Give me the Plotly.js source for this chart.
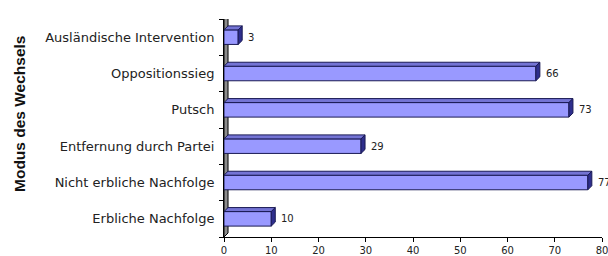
<!DOCTYPE html>
<html>
<head>
<meta charset="utf-8">
<script src="https://cdn.plot.ly/plotly-3.0.1.min.js"></script>
<style>html,body{margin:0;padding:0;background:#fff;}#chart{width:608px;height:256px;}</style>
</head>
<body>
<div id="chart"></div>
<script>
// Data (bottom to top as drawn)
const categories = ["Erbliche Nachfolge", "Nicht erbliche Nachfolge", "Entfernung durch Partei", "Putsch", "Oppositionssieg", "Ausländische Intervention"];
const values = [10, 77, 29, 73, 66, 3];
const xTickVals = [0, 10, 20, 30, 40, 50, 60, 70, 80];
const yTitle = "Modus des Wechsels";

// style constants
const barW = 0.4;      // front face height (category units)
const depthX = 0.85;   // 3D depth in x units
const depthY = 0.11;   // 3D depth in category units
const idx = categories.map((c, i) => i);
const n = categories.length;

const shapes = [];
// left wall
shapes.push({
  type: 'path', xref: 'x', yref: 'y', layer: 'below',
  path: `M 0,${-0.5} L ${depthX},${-0.5 + depthY} L ${depthX},${n - 0.5 + depthY} L 0,${n - 0.5} Z`,
  fillcolor: '#8c8c8c', line: {color: '#000', width: 1}
});
values.forEach((v, i) => {
  const top = i + barW / 2, bot = i - barW / 2;
  shapes.push({
    type: 'path', xref: 'x', yref: 'y', layer: 'above',
    path: `M 0,${top} L ${v},${top} L ${v + depthX},${top + depthY} L ${depthX},${top + depthY} Z`,
    fillcolor: '#7474d4', line: {color: '#1a1a55', width: 1}
  });
  shapes.push({
    type: 'path', xref: 'x', yref: 'y', layer: 'above',
    path: `M ${v},${bot} L ${v + depthX},${bot + depthY} L ${v + depthX},${top + depthY} L ${v},${top} Z`,
    fillcolor: '#2e2e8c', line: {color: '#1a1a55', width: 1}
  });
});

const annotations = values.map((v, i) => ({
  x: v + depthX, y: i, xref: 'x', yref: 'y', text: String(v),
  xanchor: 'left', yanchor: 'middle', xshift: 4, showarrow: false,
  font: {family: 'DejaVu Sans', size: 10, color: '#222'}
}));
annotations.push({
  text: yTitle, xref: 'paper', yref: 'paper',
  x: (19 - 224) / 378, y: (237 - 114) / 218,
  xanchor: 'center', yanchor: 'middle', textangle: -90, showarrow: false,
  font: {family: 'Liberation Sans', size: 15.5, weight: 'bold', color: '#111'}
});

const traces = [
  {
    type: 'bar', orientation: 'h', x: values, y: idx, width: barW,
    marker: {color: '#9999ff', line: {color: '#1a1a55', width: 1}},
    hoverinfo: 'none'
  }
];

const layout = {
  width: 608, height: 256,
  margin: {l: 224, r: 6, t: 19, b: 19},
  paper_bgcolor: '#fff', plot_bgcolor: '#fff',
  showlegend: false,
  shapes: shapes,
  annotations: annotations,
  xaxis: {
    range: [0, 80], tickvals: xTickVals, showgrid: false, zeroline: false,
    showline: true, linecolor: '#000', linewidth: 1,
    ticks: 'outside', ticklen: 4, tickcolor: '#000',
    ticklabeloverflow: 'allow',
    tickfont: {family: 'DejaVu Sans', size: 10, color: '#222'}
  },
  yaxis: {
    range: [-0.5, n - 0.5], tickvals: idx, ticktext: categories,
    showgrid: false, zeroline: false,
    showline: true, linecolor: '#000', linewidth: 1,
    ticks: '', ticklabelstandoff: 6,
    tickfont: {family: 'DejaVu Sans', size: 13, color: '#222'},
    minor: {tickvals: idx.concat([n]).map(i => i - 0.5), ticks: 'outside', ticklen: 4, tickcolor: '#000'}
  }
};

Plotly.newPlot('chart', traces, layout, {displayModeBar: false, staticPlot: true});
</script>
</body>
</html>
